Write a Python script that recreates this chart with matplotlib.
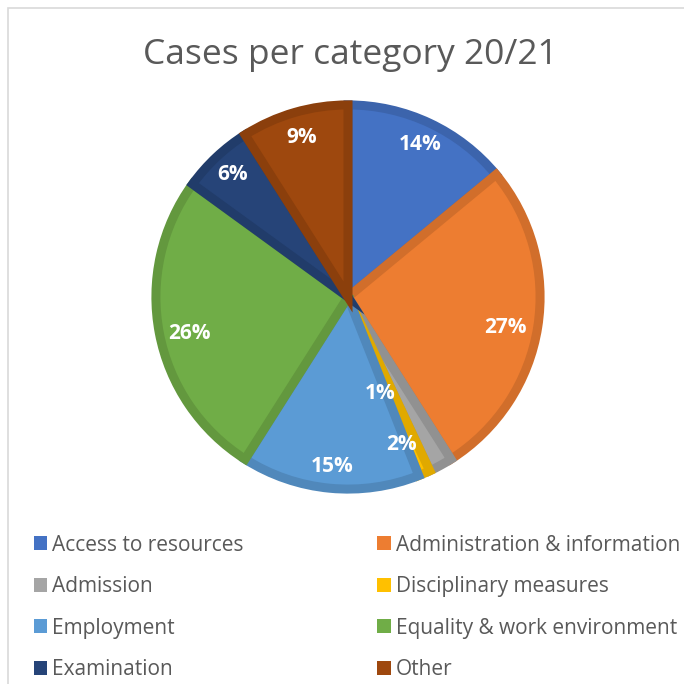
import matplotlib.pyplot as plt
from matplotlib.patches import Rectangle
import matplotlib.colors as mcolors
import numpy as np

# data
categories = ['Access to resources', 'Administration & information', 'Admission',
              'Disciplinary measures', 'Employment', 'Equality & work environment',
              'Examination', 'Other']
shares = [14, 27, 2, 1, 15, 26, 6, 9]
colors = ['#4472C4', '#ED7D31', '#A5A5A5', '#FFC000', '#5B9BD5', '#70AD47', '#264478', '#9E480E']

plt.rcParams['font.family'] = ['Open Sans', 'DejaVu Sans']

W = 684
fig = plt.figure(figsize=(6.84, 6.84), dpi=100)

# light frame like the Excel chart area
fig.patches.append(Rectangle((8 / W, -0.01), 1.0, 1 - 8 / W + 0.01, transform=fig.transFigure,
                             fill=False, edgecolor='#D9D9D9', linewidth=1.2))

cx, cy, r = 348, 297, 196
ax = fig.add_axes([(cx - r) / W, (W - cy - r) / W, 2 * r / W, 2 * r / W])

edges = [tuple(np.array(mcolors.to_rgb(c)) * 0.88) for c in colors]

wedges, _ = ax.pie(shares, colors=colors, startangle=90, counterclock=False, radius=0.98,
                   wedgeprops=dict(linewidth=6.5, edgecolor='none'))
for w, e in zip(wedges, edges):
    w.set_edgecolor(e)
    w.set_clip_on(False)
ax.set_xlim(-1, 1)
ax.set_ylim(-1, 1)
ax.set_aspect('equal')
ax.axis('off')

# percent labels
dist = [0.86, 0.82, 0.80, 0.52, 0.87, 0.83, 0.86, 0.85]
shift = [0, -2, -9, -5, 0, 2, 0, 0]
cum = 0
for v, d, s in zip(shares, dist, shift):
    mid = np.deg2rad(90 - 3.6 * (cum + v / 2) + s)
    ax.text(d * np.cos(mid), d * np.sin(mid), f'{v}%', ha='center', va='center',
            color='white', fontsize=15, fontweight='bold')
    cum += v

fig.text(350 / W, 1 - 55 / W, 'Cases per category 20/21', ha='center', va='center',
         fontsize=25.5, color='#595959')

# legend fills row by row in the reference
order = [0, 2, 4, 6, 1, 3, 5, 7]
leg = fig.legend([wedges[i] for i in order], [categories[i] for i in order], ncol=2,
                 loc='upper left', bbox_to_anchor=(15 / W, 1 - 516 / W), frameon=False,
                 fontsize=15, labelcolor='#595959', handlelength=0.65, handleheight=0.65,
                 handletextpad=0.25, columnspacing=6.4, labelspacing=0.98)
for h in leg.legend_handles:
    h.set_linewidth(0)

plt.savefig('out.png', dpi=100)
